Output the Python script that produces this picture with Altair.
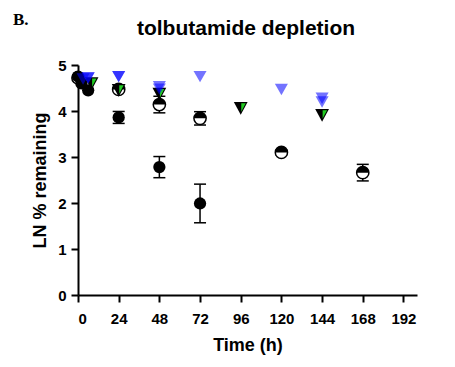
import altair as alt
import pandas as pd

# ---- data ----
A_t = [0, 2, 6, 24, 48, 72]
A_y = [4.75, 4.6, 4.45, 3.86, 2.78, 1.99]
A_err = [0, 0, 0, 0.13, 0.23, 0.42]

B_t = [0, 24, 48, 72, 120, 168]
B_y = [4.72, 4.47, 4.14, 3.84, 3.1, 2.66]
B_err = [0, 0, 0.18, 0.145, 0.05, 0.18]

C1_t = [3, 6, 24, 48, 72, 120, 144]
C1_y = [4.7, 4.72, 4.75, 4.53, 4.75, 4.47, 4.28]

C2_t = [6, 24, 48, 144]
C2_y = [4.72, 4.75, 4.48, 4.2]

D_t = [8, 24, 48, 96, 144]
D_y = [4.6, 4.45, 4.37, 4.06, 3.91]

x_ticks = [0, 24, 48, 72, 96, 120, 144, 168, 192]
y_ticks = [0, 1, 2, 3, 4, 5]

title_text = "tolbutamide depletion"
panel_text = "B."

rows = []
for s, ts, ys, es in [("A", A_t, A_y, A_err), ("B", B_t, B_y, B_err),
                      ("C1", C1_t, C1_y, [0] * len(C1_t)), ("C2", C2_t, C2_y, [0] * len(C2_t)),
                      ("D", D_t, D_y, [0] * len(D_t))]:
    for t, y, e in zip(ts, ys, es):
        rows.append({"series": s, "t": t, "y": y, "err": e})
df = pd.DataFrame(rows)

FONT = "Liberation Sans"

X = alt.X("t:Q", title="Time (h)",
          scale=alt.Scale(domain=[0, 200], nice=False, zero=True),
          axis=alt.Axis(values=x_ticks, labelPadding=9, titlePadding=10))
Y = alt.Y("y:Q", title="LN % remaining",
          scale=alt.Scale(domain=[0, 5], nice=False),
          axis=alt.Axis(values=y_ticks, labelPadding=5, titlePadding=8))

base = alt.Chart(df).encode(x=X, y=Y)

err = base.transform_filter("datum.err > 0").transform_calculate(
    lo="datum.y - datum.err", hi="datum.y + datum.err")
err_rule = err.mark_rule(color="black", strokeWidth=1.5).encode(y="lo:Q", y2="hi:Q")
cap_lo = err.mark_tick(orient="horizontal", color="black", size=12, thickness=1.5, opacity=1).encode(y="lo:Q")
cap_hi = err.mark_tick(orient="horizontal", color="black", size=12, thickness=1.5, opacity=1).encode(y="hi:Q")

A = base.transform_filter("datum.series == 'A'").mark_point(
    shape="circle", filled=True, color="black", size=150, opacity=1)

B_bg = base.transform_filter("datum.series == 'B'").mark_point(
    shape="circle", filled=True, fill="white", stroke="black", strokeWidth=1.5, size=150, opacity=1)
B_top = base.transform_filter("datum.series == 'B'").mark_point(
    shape="M-1,0A1,1,0,0,1,1,0Z", filled=True, color="black", size=150, opacity=1)

D_blk = base.transform_filter("datum.series == 'D'").mark_point(
    shape="M-1,-0.9L1,-0.9L0,0.95Z", filled=True, color="black", size=190, opacity=1)
D_grn = base.transform_filter("datum.series == 'D'").mark_point(
    shape="M0.08,-0.72L0.72,-0.72L0.08,0.5Z", filled=True, color="#22cc22", size=190, opacity=1)

C = base.transform_filter("datum.series == 'C1' || datum.series == 'C2'").mark_point(
    shape="M-1,-0.85L1,-0.85L0,0.9Z", filled=True, color="#0000ff", size=170, opacity=0.55)

label_df = pd.DataFrame({"lab": [panel_text]})
B_label = alt.Chart(label_df).mark_text(
    font="Liberation Serif", fontSize=17, fontWeight="bold", align="left",
    baseline="alphabetic", color="black").encode(
    text="lab:N", x=alt.value(-65), y=alt.value(-40))

title_df = pd.DataFrame({"lab": [title_text]})
T_label = alt.Chart(title_df).mark_text(
    font=FONT, fontSize=21, fontWeight="bold", align="center",
    baseline="alphabetic", color="black").encode(
    text="lab:N", x=alt.value(168), y=alt.value(-30))

chart = alt.layer(err_rule, cap_lo, cap_hi, B_bg, B_top, A, D_blk, D_grn, C, B_label, T_label).properties(
    width=339, height=230,
    autosize=alt.AutoSizeParams(type="none"),
    padding={"left": 70, "top": 57, "right": 30, "bottom": 68},
).configure_view(strokeWidth=0).configure_axis(
    grid=False, domainColor="black", domainWidth=2, tickColor="black", tickWidth=2, tickSize=7,
    labelFont=FONT, labelFontSize=15, labelFontWeight="bold", labelColor="black",
    titleFont=FONT, titleFontSize=18, titleFontWeight="bold", titleColor="black",
)

chart.save("out.html", embed_options={"renderer": "svg", "actions": False})
